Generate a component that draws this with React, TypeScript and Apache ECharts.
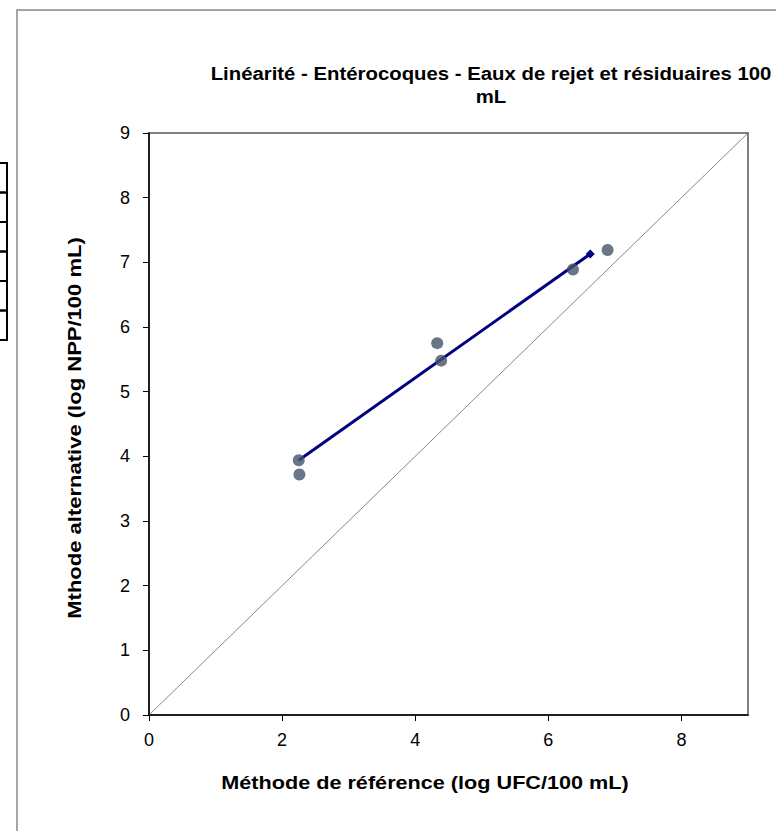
import React, { useEffect, useRef } from "react";
import * as echarts from "echarts";

const titleText = "Linéarité - Entérocoques - Eaux de rejet et résiduaires 100\nmL";
const xAxisName = "Méthode de référence (log UFC/100 mL)";
const yAxisName = "Mthode alternative (log NPP/100 mL)";

const refValues = [2.25, 2.26, 4.33, 4.39, 6.37, 6.89];
const altValues = [3.94, 3.72, 5.75, 5.48, 6.89, 7.19];

const trendX = [2.25, 6.63];
const trendY = [3.94, 7.13];

const diagX = [0, 9];
const diagY = [0, 9];

const tableRowTops = [163, 192.5, 222, 251.5, 281, 310.5];

export default function App() {
  const ref = useRef<HTMLDivElement>(null);
  useEffect(() => {
    if (!ref.current) return;
    const chart = echarts.init(ref.current, null, { renderer: "svg" });
    const font = "Liberation Sans, Arial, sans-serif";
    const graphics: any[] = [
      {
        type: "rect",
        z: 0,
        shape: { x: 17, y: 10, width: 900, height: 900 },
        style: { fill: "none", stroke: "#888", lineWidth: 1.5 },
        silent: true,
      },
      ...tableRowTops.map((t) => ({
        type: "rect",
        shape: { x: -6, y: t, width: 13, height: 29.5 },
        style: { fill: "none", stroke: "#000", lineWidth: 2 },
        silent: true,
      })),
      {
        type: "text",
        x: 491,
        y: 85,
        scaleX: 1.1,
        style: {
          text: titleText,
          fontFamily: font,
          fontWeight: "bold",
          fontSize: 18.5,
          fill: "#000",
          align: "center",
          verticalAlign: "middle",
          lineHeight: 23,
        },
      },
      {
        type: "text",
        x: 425,
        y: 783,
        scaleX: 1.17,
        style: {
          text: xAxisName,
          fontFamily: font,
          fontWeight: "bold",
          fontSize: 18.5,
          fill: "#000",
          align: "center",
          verticalAlign: "middle",
        },
      },
      {
        type: "text",
        x: 75,
        y: 428,
        rotation: Math.PI / 2,
        scaleX: 1.19,
        style: {
          text: yAxisName,
          fontFamily: font,
          fontWeight: "bold",
          fontSize: 18.5,
          fill: "#000",
          align: "center",
          verticalAlign: "middle",
        },
      },
    ];

    chart.setOption({
      animation: false,
      backgroundColor: "#fff",
      graphic: graphics,
      grid: {
        left: 149,
        top: 133,
        right: 28,
        bottom: 116,
        show: true,
        borderColor: "#808080",
        borderWidth: 2,
        backgroundColor: "transparent",
      },
      xAxis: {
        type: "value",
        min: 0,
        max: 9,
        interval: 2,
        axisLine: { show: true, onZero: false, lineStyle: { color: "#000", width: 1.5 } },
        axisTick: { show: true, inside: false, length: 6, lineStyle: { color: "#000" } },
        axisLabel: {
          margin: 16,
          fontSize: 18,
          fontFamily: font,
          color: "#000",
          showMaxLabel: false,
        },
        splitLine: { show: false },
      },
      yAxis: {
        type: "value",
        min: 0,
        max: 9,
        interval: 1,
        axisLine: { show: true, onZero: false, lineStyle: { color: "#000", width: 1.5 } },
        axisTick: { show: true, inside: false, length: 6, lineStyle: { color: "#000" } },
        axisLabel: {
          margin: 19,
          fontSize: 18,
          fontFamily: font,
          color: "#000",
        },
        splitLine: { show: false },
      },
      series: [
        {
          type: "line",
          data: diagX.map((x, i) => [x, diagY[i]]),
          symbol: "none",
          lineStyle: { color: "#555", width: 0.7 },
          z: 2,
          silent: true,
        },
        {
          type: "line",
          data: trendX.map((x, i) =>
            i === trendX.length - 1
              ? { value: [x, trendY[i]], symbol: "diamond", symbolSize: 9 }
              : { value: [x, trendY[i]], symbol: "none" }
          ),
          showSymbol: true,
          itemStyle: { color: "#000080" },
          lineStyle: { color: "#000080", width: 3 },
          z: 3,
        },
        {
          type: "scatter",
          data: refValues.map((x, i) => [x, altValues[i]]),
          symbol: "circle",
          symbolSize: 12,
          itemStyle: { color: "#44546A" },
          z: 4,
        },
      ],
    });
    return () => chart.dispose();
  }, []);
  return (
    <div
      ref={ref}
      style={{ position: "absolute", left: 0, top: 0, width: 776, height: 831 }}
    />
  );
}
